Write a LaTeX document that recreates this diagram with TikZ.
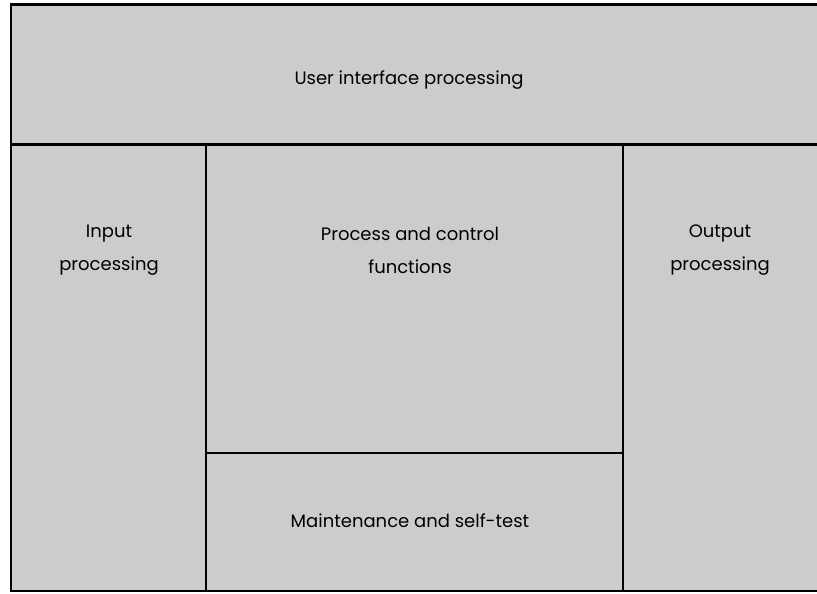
\documentclass[tikz,border=0pt]{standalone}
\usepackage{fontspec}
\setmainfont{Poppins}
\begin{document}
\begin{tikzpicture}[x=1pt,y=1pt,
  cell/.style={draw=black,line width=2.2pt,fill=boxgray},
  lbl/.style={align=center,font=\fontsize{18}{33}\selectfont,text=black}]
\definecolor{boxgray}{HTML}{CCCCCC}
\useasboundingbox (0,0) rectangle (817,594);
% outer and cells
\path[cell] (11,3) rectangle (830,589.5);
\draw[line width=2.2pt] (11,449.5) -- (830,449.5);
\draw[line width=2.2pt] (206,449.5) -- (206,3);
\draw[line width=2.2pt] (623,449.5) -- (623,3);
\draw[line width=2.2pt] (206,141) -- (623,141);
\node[lbl] (ui) at (409,514) {User interface processing};
\node[lbl] (in) at (109,344) {Input\\processing};
\node[lbl] (pc) at (410,344) {Process and control\\functions};
\node[lbl] (out) at (720,344) {Output\\processing};
\node[lbl] (mt) at (410,73) {Maintenance and self-test};
\end{tikzpicture}
\end{document}
